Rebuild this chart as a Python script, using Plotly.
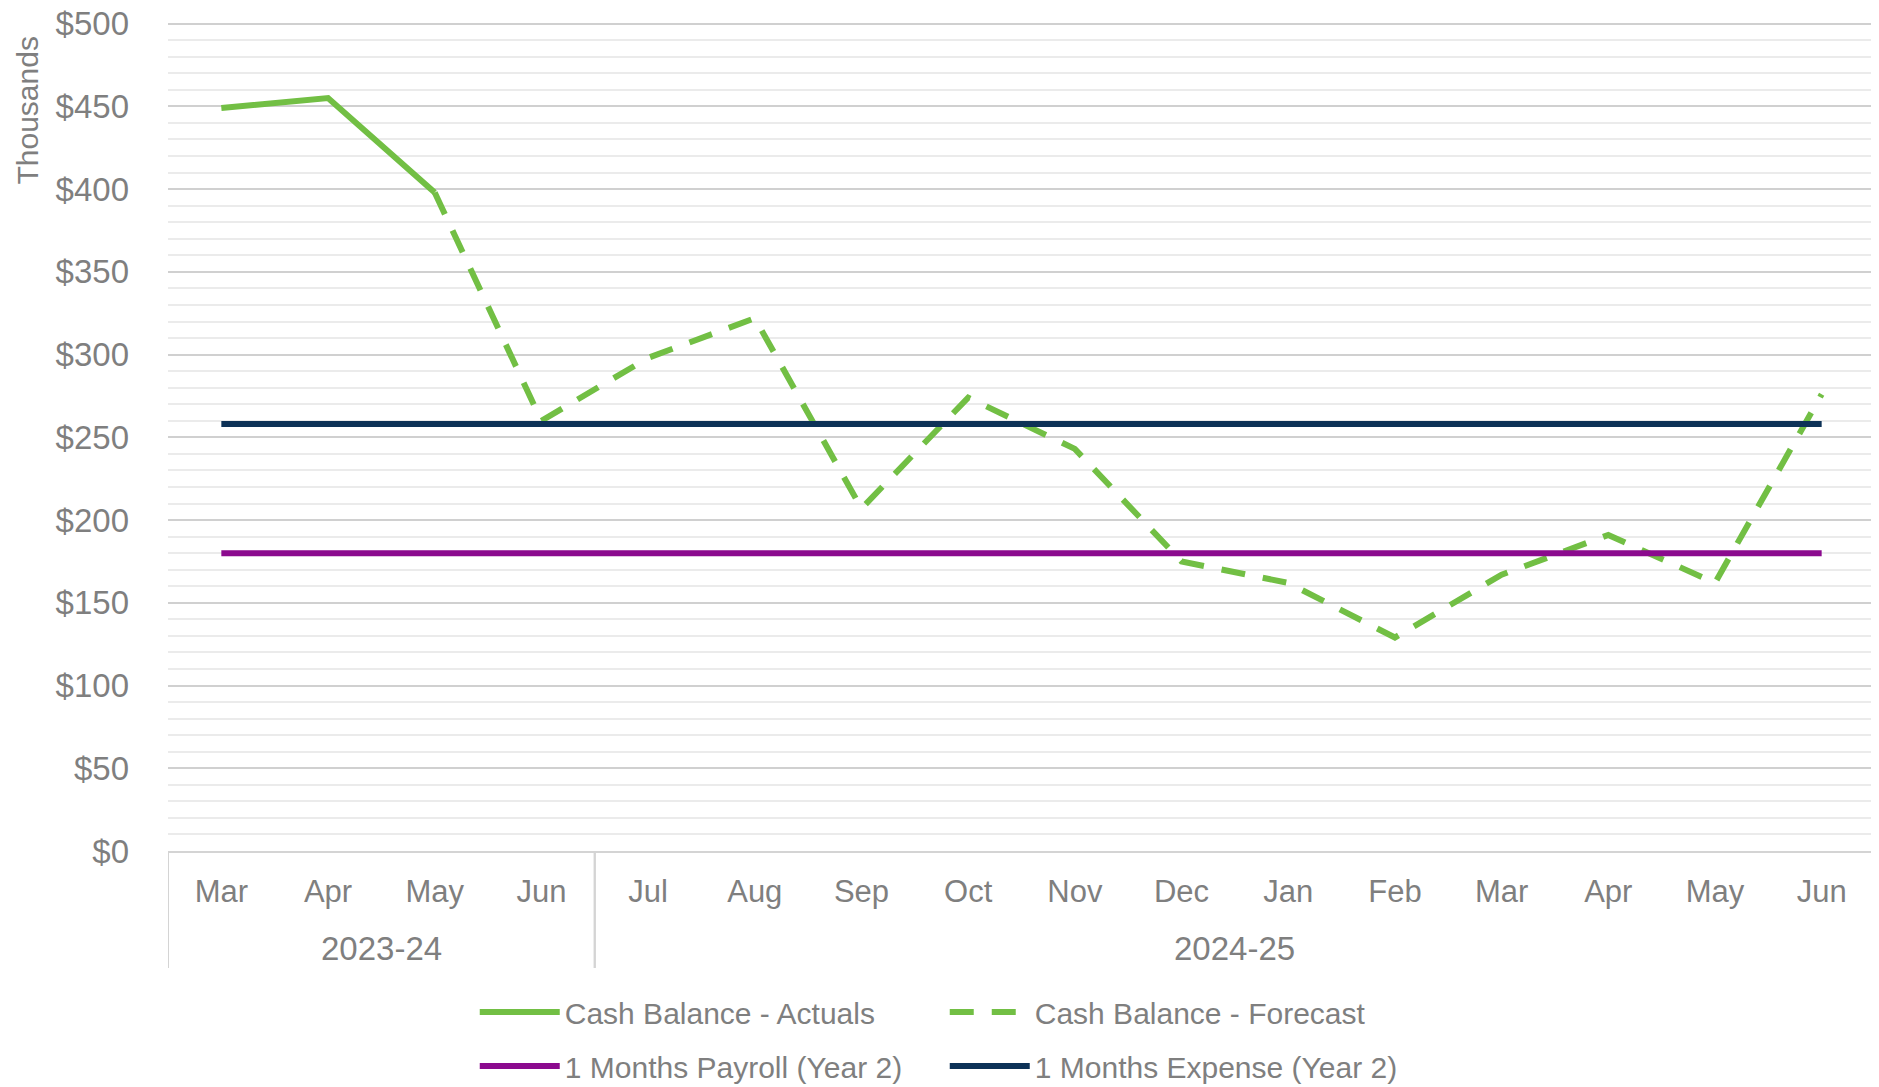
import plotly.graph_objects as go

# ---- data ----
months = ["Mar", "Apr", "May", "Jun", "Jul", "Aug", "Sep", "Oct",
          "Nov", "Dec", "Jan", "Feb", "Mar", "Apr", "May", "Jun"]
month_pos = [0, 1, 2, 3, 4, 5, 6, 7, 8, 9, 10, 11, 12, 13, 14, 15]
year_groups = ["2023-24", "2024-25"]
year_start = [0, 4]      # first category index of each year group
year_end = [3, 15]       # last category index of each year group
actuals = [449, 455, 398, None, None, None, None, None,
           None, None, None, None, None, None, None, None]
forecast = [None, None, 398, 260, 298, 322, 207, 274,
            243, 175, 162, 129, 167, 191, 162, 276]
payroll = [180, 180, 180, 180, 180, 180, 180, 180,
           180, 180, 180, 180, 180, 180, 180, 180]
expense = [258, 258, 258, 258, 258, 258, 258, 258,
           258, 258, 258, 258, 258, 258, 258, 258]

GREEN = "#72BF44"
NAVY = "#0D3257"
PURPLE = "#8B0A8E"
TXT = "#7F7F7F"
AXC = "#D4D4D4"
FONT = "Liberation Sans, Arial, sans-serif"

fig = go.Figure()
fig.add_trace(go.Scatter(x=month_pos, y=actuals, name="Cash Balance - Actuals", mode="lines",
                         line=dict(color=GREEN, width=6), legend="legend"))
fig.add_trace(go.Scatter(x=month_pos, y=forecast, name="Cash Balance - Forecast", mode="lines",
                         line=dict(color=GREEN, width=6, dash="24px,18px"), legend="legend"))
fig.add_trace(go.Scatter(x=month_pos, y=payroll, name="1 Months Payroll (Year 2)", mode="lines",
                         line=dict(color=PURPLE, width=6), legend="legend2"))
fig.add_trace(go.Scatter(x=month_pos, y=expense, name="1 Months Expense (Year 2)", mode="lines",
                         line=dict(color=NAVY, width=6), legend="legend2"))

legend_common = dict(orientation="h", xanchor="left", yanchor="middle",
                     font=dict(family=FONT, size=30, color=TXT),
                     entrywidth=375, entrywidthmode="pixels", itemwidth=80,
                     bgcolor="rgba(0,0,0,0)", tracegroupgap=0)

# the page body adds an 8px offset, so the figure is sized 8px smaller
fig.update_layout(
    width=1871, height=1079,
    margin=dict(l=160, r=4, t=14, b=236, autoexpand=False),
    paper_bgcolor="white", plot_bgcolor="white",
    font=dict(family=FONT, size=30, color=TXT),
    showlegend=True,
    legend=dict(x=0.1797, y=-0.1942, **legend_common),
    legend2=dict(x=0.1797, y=-0.2593, **legend_common),
    xaxis=dict(range=[-0.5, 15.5], showgrid=False, zeroline=False,
               showline=True, linecolor=AXC, linewidth=2,
               tickmode="array", tickvals=month_pos, ticktext=months,
               ticks="", ticklabelstandoff=12, automargin=False,
               tickfont=dict(family=FONT, size=31, color=TXT)),
    yaxis=dict(range=[0, 501], dtick=50, tick0=0, tickprefix="$",
               showgrid=True, gridcolor="#D0D0D0", gridwidth=2,
               minor=dict(dtick=10, showgrid=True, gridcolor="#EBEBEB", gridwidth=2),
               zeroline=False, showline=False, ticks="", automargin=False,
               ticklabelstandoff=38, ticklabeloverflow="allow",
               tickfont=dict(family=FONT, size=33, color=TXT)),
)

# year group labels and category dividers, placed with the x axis scale
for name, s, e in zip(year_groups, year_start, year_end):
    fig.add_annotation(text=name, xref="x", yref="paper", x=(s + e) / 2, y=-0.1182,
                       xanchor="center", yanchor="middle", showarrow=False,
                       font=dict(family=FONT, size=33, color=TXT))
    for edge in (s - 0.5, e + 0.5):
        fig.add_shape(type="line", xref="x", yref="paper", x0=edge, x1=edge,
                      y0=0, y1=-0.1411, line=dict(color=AXC, width=2))

fig.add_annotation(text="Thousands", xref="paper", yref="paper",
                   x=-0.0823, y=0.8926, xanchor="center", yanchor="middle",
                   textangle=-90, showarrow=False,
                   font=dict(family=FONT, size=30, color=TXT))

fig.write_html("out.html")
